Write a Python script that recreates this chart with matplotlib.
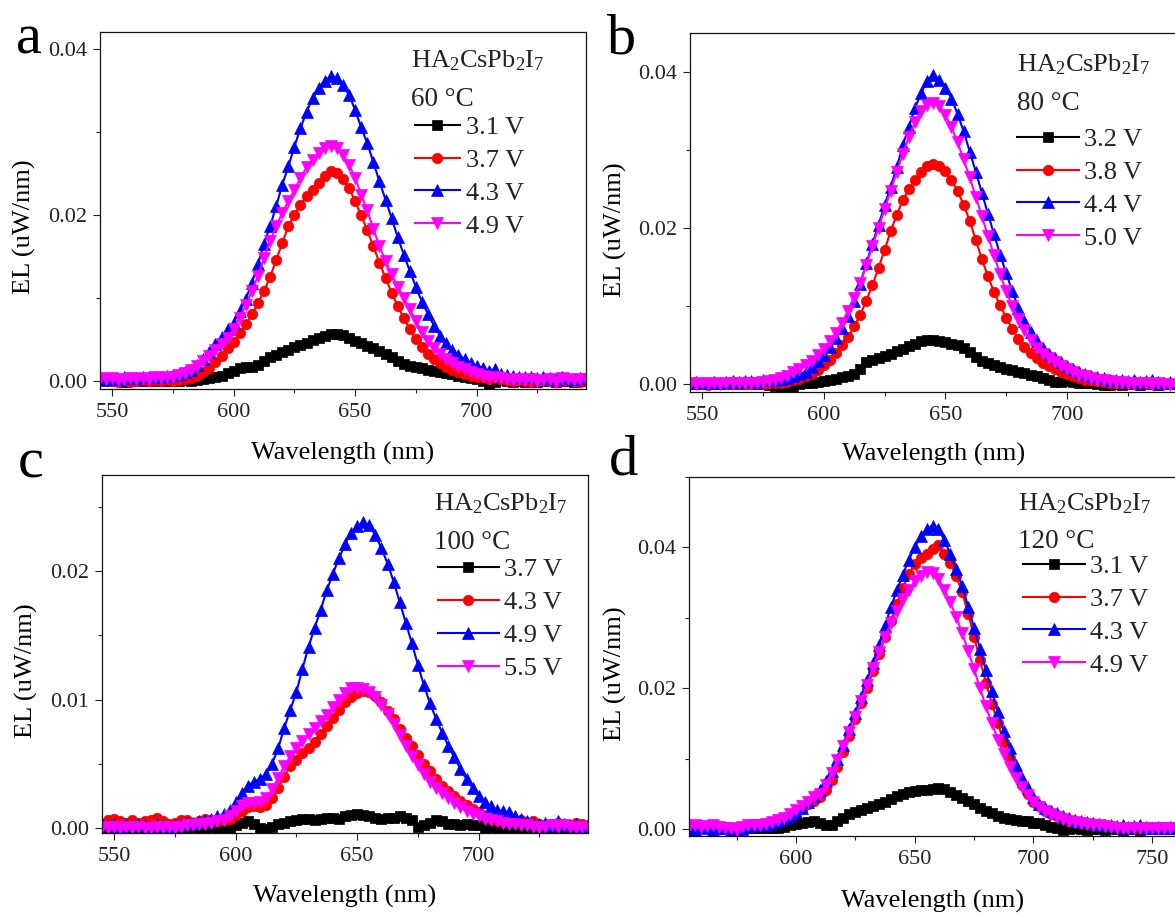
import numpy as np
import matplotlib
matplotlib.use("Agg")
import matplotlib.pyplot as plt
from matplotlib.ticker import MultipleLocator, FormatStrFormatter

plt.rcParams['font.family'] = ['Liberation Serif', 'DejaVu Serif']
plt.rcParams['mathtext.fontset'] = 'custom'
plt.rcParams['mathtext.rm'] = 'Liberation Serif'
plt.rcParams['mathtext.it'] = 'Liberation Serif:italic'
plt.rcParams['mathtext.bf'] = 'Liberation Serif:bold'

# ---------------- data (EL in units of 1e-3 uW/nm) ----------------
wl_abc = [545.0, 547.5, 550.0, 552.5, 555.0, 557.5, 560.0, 562.5, 565.0, 567.5,
          570.0, 572.5, 575.0, 577.5, 580.0, 582.5, 585.0, 587.5, 590.0, 592.5,
          595.0, 597.5, 600.0, 602.5, 605.0, 607.5, 610.0, 612.5, 615.0, 617.5,
          620.0, 622.5, 625.0, 627.5, 630.0, 632.5, 635.0, 637.5, 640.0, 642.5,
          645.0, 647.5, 650.0, 652.5, 655.0, 657.5, 660.0, 662.5, 665.0, 667.5,
          670.0, 672.5, 675.0, 677.5, 680.0, 682.5, 685.0, 687.5, 690.0, 692.5,
          695.0, 697.5, 700.0, 702.5, 705.0, 707.5, 710.0, 712.5, 715.0, 717.5,
          720.0, 722.5, 725.0, 727.5, 730.0, 732.5, 735.0, 737.5, 740.0, 742.5,
          745.0]

wl_d = [555.0, 557.5, 560.0, 562.5, 565.0, 567.5, 570.0, 572.5, 575.0, 577.5,
        580.0, 582.5, 585.0, 587.5, 590.0, 592.5, 595.0, 597.5, 600.0, 602.5,
        605.0, 607.5, 610.0, 612.5, 615.0, 617.5, 620.0, 622.5, 625.0, 627.5,
        630.0, 632.5, 635.0, 637.5, 640.0, 642.5, 645.0, 647.5, 650.0, 652.5,
        655.0, 657.5, 660.0, 662.5, 665.0, 667.5, 670.0, 672.5, 675.0, 677.5,
        680.0, 682.5, 685.0, 687.5, 690.0, 692.5, 695.0, 697.5, 700.0, 702.5,
        705.0, 707.5, 710.0, 712.5, 715.0, 717.5, 720.0, 722.5, 725.0, 727.5,
        730.0, 732.5, 735.0, 737.5, 740.0, 742.5, 745.0, 747.5, 750.0, 752.5,
        755.0, 757.5, 760.0]

# panel a: 60 C
a_31 = [0.1, 0.0, 0.1, 0.0, -0.1, 0.0, 0.1, 0.0, 0.1, 0.0,
        0.1, 0.0, 0.1, 0.0, 0.1, 0.0, 0.1, 0.2, 0.3, 0.4,
        0.6, 0.9, 1.2, 1.5, 1.6, 1.6, 1.9, 2.4, 2.8, 3.1,
        3.4, 3.7, 4.0, 4.3, 4.6, 4.9, 5.2, 5.4, 5.6, 5.6,
        5.5, 5.2, 4.8, 4.5, 4.2, 3.9, 3.6, 3.2, 2.8, 2.4,
        2.0, 1.8, 1.6, 1.5, 1.3, 1.2, 1.1, 0.9, 0.8, 0.6,
        0.5, 0.3, 0.2, 0.0, -0.4, -0.2, 0.1, 0.0, -0.1, 0.0,
        -0.1, 0.0, -0.1, 0.0, 0.0, -0.1, 0.0, 0.0, -0.1, 0.0,
        0.0]
a_37 = [0.1, 0.2, 0.0, -0.1, 0.1, -0.2, 0.0, 0.1, 0.0, 0.1,
        0.0, 0.1, 0.0, 0.1, 0.2, 0.3, 0.6, 1.0, 1.5, 2.2,
        3.0, 3.9, 4.7, 5.7, 6.8, 8.0, 9.3, 10.8, 12.5, 14.5,
        16.6, 18.6, 20.0, 21.2, 22.2, 23.0, 23.8, 24.6, 25.2, 25.0,
        24.3, 23.2, 21.6, 19.9, 18.1, 16.2, 14.2, 12.4, 10.6, 9.0,
        7.5, 6.2, 5.0, 4.0, 3.2, 2.6, 2.1, 1.7, 1.3, 1.0,
        0.8, 0.6, 0.5, 0.4, 0.2, 0.4, 0.2, 0.1, 0.0, 0.1,
        0.0, -0.1, 0.0, 0.1, 0.0, -0.1, 0.0, 0.1, 0.0, -0.1,
        0.0]
a_43 = [0.3, 0.2, 0.3, 0.2, 0.4, 0.3, 0.3, 0.5, 0.4, 0.5,
        0.4, 0.6, 0.7, 0.8, 1.0, 1.3, 1.9, 2.6, 3.5, 4.4,
        5.3, 6.2, 7.0, 8.4, 9.8, 11.8, 14.0, 16.5, 18.6, 21.0,
        23.6, 25.8, 28.2, 30.4, 32.4, 34.0, 35.3, 36.1, 36.7, 36.4,
        35.6, 34.4, 32.6, 30.5, 28.6, 26.3, 24.0, 21.8, 19.6, 17.3,
        15.2, 13.2, 11.3, 9.5, 8.0, 6.6, 5.4, 4.5, 3.7, 3.1,
        2.6, 2.1, 1.8, 1.5, 1.2, 1.4, 0.8, 0.7, 0.6, 0.5,
        0.4, 0.5, 0.3, 0.4, 0.3, 0.2, 0.5, 0.3, 0.2, 0.3,
        0.3]
a_49 = [0.3, 0.2, 0.3, 0.1, 0.2, 0.3, 0.2, 0.3, 0.2, 0.4,
        0.3, 0.4, 0.5, 0.7, 0.9, 1.3, 1.8, 2.4, 3.0, 3.7,
        4.4, 5.2, 6.2, 7.6, 9.1, 10.8, 12.6, 14.8, 16.8, 18.6,
        20.2, 21.6, 23.0, 24.4, 25.7, 26.6, 27.4, 28.0, 28.3, 28.0,
        27.2, 26.0, 24.4, 22.4, 20.5, 18.3, 16.2, 14.4, 12.8, 11.3,
        10.0, 8.6, 7.2, 5.9, 4.8, 3.9, 3.2, 2.6, 2.1, 1.7,
        1.4, 1.0, 0.8, 0.6, 0.3, 0.5, 0.3, 0.2, 0.1, 0.2,
        0.1, 0.2, 0.0, 0.1, 0.2, -0.1, 0.3, 0.2, 0.1, 0.2,
        0.2]

# panel b: 80 C
b_32 = [0.1, 0.0, 0.1, 0.0, 0.0, 0.1, 0.0, 0.1, 0.0, 0.0,
        0.1, 0.0, 0.0, -0.1, -0.2, -0.4, -0.7, -0.3, 0.0, 0.1,
        0.2, 0.3, 0.4, 0.5, 0.7, 0.9, 1.1, 1.3, 2.0, 2.8,
        3.1, 3.3, 3.6, 3.9, 4.2, 4.5, 4.9, 5.2, 5.5, 5.7,
        5.6, 5.5, 5.4, 5.2, 5.0, 4.7, 4.1, 3.5, 3.0, 2.7,
        2.5, 2.2, 2.0, 1.8, 1.6, 1.4, 1.2, 1.0, 0.8, 0.5,
        0.3, 0.3, 0.4, 0.3, 0.2, 0.1, 0.1, 0.0, -0.1, -0.1,
        0.0, -0.1, 0.0, 0.0, -0.1, 0.0, 0.0, -0.1, 0.0, 0.0,
        0.0]
b_38 = [0.0, 0.1, 0.0, -0.1, 0.0, 0.1, 0.0, 0.0, 0.1, 0.0,
        0.0, 0.1, 0.0, 0.1, 0.1, 0.2, 0.3, 0.5, 0.7, 1.0,
        1.3, 1.8, 2.4, 3.1, 4.0, 5.0, 6.1, 7.4, 8.9, 10.7,
        12.7, 14.9, 17.2, 19.6, 21.7, 23.6, 25.0, 26.2, 27.2, 27.9,
        28.2, 28.0, 27.3, 26.2, 24.7, 23.0, 20.9, 18.5, 16.0, 13.8,
        11.8, 10.1, 8.5, 7.1, 5.8, 4.8, 4.0, 3.3, 2.7, 2.3,
        1.9, 1.6, 1.3, 1.0, 0.8, 0.6, 0.5, 0.4, 0.3, 0.2,
        0.2, 0.1, 0.1, 0.0, 0.1, 0.0, 0.0, 0.1, 0.0, 0.0,
        0.0]
b_44 = [0.2, 0.3, 0.2, 0.2, 0.3, 0.2, 0.3, 0.4, 0.3, 0.4,
        0.4, 0.3, 0.5, 0.5, 0.6, 0.7, 0.8, 1.0, 1.3, 1.6,
        2.2, 3.0, 3.8, 4.8, 5.9, 7.2, 8.8, 10.7, 12.9, 15.5,
        18.0, 20.4, 22.9, 25.3, 27.8, 30.6, 33.0, 35.4, 37.3, 38.9,
        39.6, 39.0, 38.0, 36.6, 34.6, 32.4, 29.8, 27.2, 24.5, 21.8,
        19.2, 16.6, 14.2, 11.9, 9.8, 8.1, 6.7, 5.5, 4.6, 3.9,
        3.3, 2.8, 2.3, 1.9, 1.6, 1.3, 1.1, 0.9, 0.8, 0.6,
        0.5, 0.6, 0.4, 0.5, 0.3, 0.4, 0.5, 0.3, 0.2, 0.3,
        0.2]
b_50 = [0.1, 0.0, 0.1, 0.0, 0.1, 0.0, 0.1, 0.2, 0.1, 0.2,
        0.2, 0.1, 0.3, 0.4, 0.5, 0.8, 1.1, 1.5, 1.9, 2.4,
        3.0, 3.7, 4.5, 5.5, 6.6, 7.9, 9.4, 11.1, 13.0, 15.3,
        17.7, 20.0, 22.4, 24.8, 27.2, 29.5, 31.7, 33.6, 35.0, 35.8,
        36.0, 35.6, 34.5, 32.9, 31.0, 28.8, 26.5, 24.0, 21.5, 19.0,
        16.5, 14.1, 11.9, 10.0, 8.3, 6.9, 5.7, 4.7, 3.9, 3.3,
        2.8, 2.3, 1.9, 1.5, 1.2, 1.0, 0.8, 0.6, 0.5, 0.4,
        0.3, 0.3, 0.2, 0.1, 0.2, 0.1, 0.0, 0.1, 0.0, -0.1,
        0.0]

# panel c: 100 C
c_37 = [0.1, 0.0, 0.1, 0.0, 0.0, 0.1, 0.0, 0.0, 0.1, 0.0,
        0.0, 0.0, 0.1, 0.0, 0.0, 0.1, 0.0, 0.0, 0.1, 0.0,
        -0.1, 0.0, 0.2, 0.4, 0.5, 0.3, 0.0, -0.1, 0.1, 0.3,
        0.4, 0.5, 0.6, 0.7, 0.7, 0.6, 0.7, 0.8, 0.8, 0.7,
        0.9, 1.0, 1.1, 1.0, 0.9, 0.8, 0.7, 0.8, 0.8, 0.9,
        0.8, 0.6, 0.1, 0.2, 0.4, 0.6, 0.5, 0.3, 0.3, 0.2,
        0.3, 0.2, 0.2, 0.0, 0.1, 0.0, -0.1, 0.0, -0.2, -0.1,
        0.0, -0.1, -0.2, 0.0, -0.1, 0.0, 0.0, -0.1, 0.0, 0.0,
        0.0]
c_43 = [0.3, 0.6, 0.7, 0.5, 0.4, 0.6, 0.4, 0.5, 0.6, 0.8,
        0.5, 0.3, 0.4, 0.6, 0.6, 0.4, 0.5, 0.7, 0.6, 0.5,
        0.6, 0.7, 1.0, 1.3, 1.6, 1.7, 1.6, 1.8, 2.3, 3.1,
        4.0, 4.8, 5.3, 5.8, 6.2, 6.7, 7.3, 7.9, 8.6, 9.2,
        9.8, 10.2, 10.5, 10.7, 10.6, 10.3, 9.8, 9.1, 8.5, 7.7,
        7.0, 6.4, 5.7, 5.0, 4.4, 3.8, 3.3, 2.9, 2.5, 2.1,
        1.8, 1.5, 1.2, 0.9, 0.8, 0.6, 0.5, 0.6, 0.5, 0.6,
        0.4, 0.5, 0.3, 0.2, 0.3, 0.4, 0.3, 0.2, 0.4, 0.3,
        0.2]
c_49 = [0.3, 0.2, 0.3, 0.1, 0.3, 0.2, 0.3, 0.2, 0.1, 0.3,
        0.2, 0.0, 0.2, 0.3, 0.4, 0.4, 0.5, 0.6, 0.7, 0.9,
        1.1, 1.4, 2.0, 2.7, 3.3, 3.6, 3.8, 4.2, 5.0, 6.2,
        7.8, 9.2, 10.6, 12.4, 14.1, 15.6, 17.0, 18.5, 19.8, 21.0,
        22.1, 23.0, 23.5, 23.8, 23.6, 22.8, 21.8, 20.6, 19.2, 17.6,
        16.0, 14.4, 12.7, 11.1, 9.7, 8.5, 7.4, 6.4, 5.5, 4.6,
        3.8, 3.1, 2.5, 2.0, 1.7, 1.4, 1.3, 1.2, 0.9, 0.7,
        0.5, 0.4, 0.3, 0.4, 0.2, 0.5, 0.3, 0.2, 0.3, 0.1,
        0.2]
c_55 = [0.1, 0.0, 0.1, 0.0, 0.1, 0.0, 0.1, 0.0, 0.0, 0.1,
        0.0, 0.1, 0.0, 0.1, 0.2, 0.2, 0.3, 0.3, 0.4, 0.5,
        0.6, 0.9, 1.3, 1.7, 1.9, 1.9, 2.0, 2.3, 3.0, 3.9,
        4.8, 5.6, 6.2, 6.8, 7.3, 7.8, 8.3, 8.8, 9.4, 10.0,
        10.5, 10.9, 10.9, 10.8, 10.6, 10.2, 9.6, 8.9, 8.1, 7.2,
        6.4, 5.6, 4.9, 4.2, 3.6, 3.1, 2.7, 2.3, 1.9, 1.6,
        1.3, 1.1, 0.9, 0.7, 0.6, 0.5, 0.4, 0.3, 0.3, 0.2,
        0.2, 0.1, 0.0, 0.1, 0.2, 0.1, 0.2, 0.1, 0.0, 0.1,
        0.1]

# panel d: 120 C
d_31 = [0.3, 0.3, 0.4, 0.3, 0.2, 0.3, 0.1, -0.1, -0.2, 0.0,
        0.1, 0.2, 0.1, 0.2, 0.1, 0.2, 0.3, 0.5, 0.7, 0.9,
        1.0, 1.1, 0.8, 0.5, 0.6, 1.1, 1.6, 2.1, 2.4, 2.7,
        3.0, 3.3, 3.6, 3.9, 4.3, 4.7, 5.0, 5.2, 5.4, 5.5,
        5.6, 5.7, 5.8, 5.7, 5.3, 4.8, 4.4, 4.0, 3.5, 3.0,
        2.6, 2.2, 1.9, 1.6, 1.4, 1.3, 1.2, 1.1, 0.9, 0.8,
        0.5, 0.3, 0.1, -0.1, 0.0, 0.1, 0.0, -0.1, 0.0, 0.0,
        -0.1, 0.0, 0.0, -0.1, 0.0, 0.0, -0.1, 0.0, 0.0, 0.0,
        0.0, 0.0, 0.0]
d_37 = [0.4, 0.3, 0.5, 0.4, 0.3, 0.4, 0.2, 0.0, -0.1, 0.2,
        0.4, 0.5, 0.7, 0.8, 1.0, 1.2, 1.5, 1.9, 2.4, 2.9,
        3.5, 4.0, 4.6, 5.6, 7.0, 8.8, 10.9, 13.2, 15.6, 17.9,
        20.0, 22.4, 24.8, 27.2, 29.6, 32.0, 34.2, 36.2, 37.7, 38.5,
        39.0, 39.8, 40.3, 39.0, 37.8, 35.9, 33.6, 30.6, 27.3, 24.0,
        20.8, 17.8, 15.0, 12.4, 10.1, 8.0, 6.3, 5.0, 3.9, 3.2,
        2.6, 2.1, 1.8, 1.5, 1.2, 1.0, 0.9, 0.7, 0.6, 0.5,
        0.5, 0.4, 0.3, 0.2, 0.3, 0.2, 0.1, 0.2, 0.1, 0.2,
        0.1, 0.2, 0.1]
d_43 = [0.2, -0.2, 0.3, 0.1, -0.1, 0.2, 0.1, -0.1, -0.3, 0.0,
        0.3, 0.5, 0.6, 0.6, 0.9, 1.2, 1.5, 1.9, 2.4, 3.0,
        3.8, 4.7, 5.6, 6.8, 8.3, 9.9, 11.9, 14.2, 16.5, 18.8,
        21.1, 23.6, 26.2, 28.9, 31.5, 33.9, 36.1, 38.2, 40.0, 41.6,
        42.6, 43.1, 42.6, 41.0, 39.1, 36.9, 34.5, 31.6, 28.6, 25.6,
        22.6, 19.6, 16.6, 13.9, 11.5, 9.1, 7.3, 5.8, 4.5, 3.6,
        3.0, 2.6, 2.2, 1.9, 1.6, 1.3, 1.1, 1.0, 0.8, 0.7,
        0.6, 0.5, 0.4, 0.5, 0.3, 0.4, 0.6, 0.3, 0.2, 0.3,
        0.2, 0.3, 0.2]
d_49 = [0.4, 0.5, 0.3, 0.4, 0.5, 0.3, 0.2, 0.1, -0.1, 0.3,
        0.5, 0.6, 0.5, 0.7, 1.0, 1.3, 1.6, 2.1, 2.7, 3.3,
        3.9, 4.5, 5.0, 6.3, 8.0, 9.8, 11.8, 13.8, 15.9, 18.2,
        20.5, 22.9, 25.1, 27.3, 29.2, 31.0, 32.6, 34.0, 35.2, 36.0,
        36.5, 36.4, 35.5, 34.0, 32.2, 30.1, 27.8, 25.3, 22.7, 20.0,
        17.4, 15.0, 12.7, 10.6, 8.8, 7.2, 5.9, 4.8, 3.8, 3.1,
        2.5, 2.1, 1.7, 1.4, 1.2, 1.0, 0.9, 0.7, 0.6, 0.5,
        0.4, 0.3, 0.2, 0.1, 0.2, 0.1, 0.2, 0.1, 0.2, 0.1,
        0.2, 0.1, 0.2]

panels = [
    dict(letter='a', temp='60 °C', wl=wl_abc, series=[a_31, a_37, a_43, a_49],
         labels=['3.1 V', '3.7 V', '4.3 V', '4.9 V']),
    dict(letter='b', temp='80 °C', wl=wl_abc, series=[b_32, b_38, b_44, b_50],
         labels=['3.2 V', '3.8 V', '4.4 V', '5.0 V']),
    dict(letter='c', temp='100 °C', wl=wl_abc, series=[c_37, c_43, c_49, c_55],
         labels=['3.7 V', '4.3 V', '4.9 V', '5.5 V']),
    dict(letter='d', temp='120 °C', wl=wl_d, series=[d_31, d_37, d_43, d_49],
         labels=['3.1 V', '3.7 V', '4.3 V', '4.9 V']),
]

# ---------------- styles / layout (pixels) ----------------
W, H = 1175, 913
colors = ['#000000', '#ff0000', '#0000ff', '#ff00ff']
markers = ['s', 'o', '^', 'v']
msizes = [6.5, 7.5, 8.0, 8.0]

layout = [
    dict(box=(100, 586, 32, 389), xlim=(545, 745), ylim=(-0.001, 0.042), ymaj=0.02, ymin=0.01,
         xl=(0.5, -0.148), yl=(-0.132, 0.454),
         title=(411, 67), temp=(411, 106), leg=(415, 176.5), hl=1.7, htp=0.22),
    dict(box=(690, 1176.5, 33, 392), xlim=(545, 745), ylim=(-0.001, 0.045), ymaj=0.02, ymin=0.01,
         xl=(0.5, -0.142), yl=(-0.13, 0.451),
         title=(1017, 71), temp=(1017, 110), leg=(1017, 188.5), hl=2.35, htp=0.18),
    dict(box=(102, 588, 475, 833), xlim=(545, 745), ylim=(-0.0004, 0.0275), ymaj=0.01, ymin=0.005,
         xl=(0.5, -0.145), yl=(-0.132, 0.453),
         title=(434, 510), temp=(434, 549), leg=(438, 619), hl=2.3, htp=0.22),
    dict(box=(689, 1176, 477, 836), xlim=(555, 760), ylim=(-0.001, 0.050), ymaj=0.02, ymin=0.01,
         xl=(0.5, -0.15), yl=(-0.127, 0.451),
         title=(1018, 510), temp=(1018, 548), leg=(1023, 615.5), hl=2.35, htp=0.18),
]
letter_pos = [(16, 53), (607, 53), (18, 478), (609, 474)]

fig = plt.figure(figsize=(W / 100, H / 100), dpi=100)

for p, L, lp in zip(panels, layout, letter_pos):
    l, r, t, b = L['box']
    ax = fig.add_axes([l / W, 1 - b / H, (r - l) / W, (b - t) / H])
    handles = []
    for ys, c, m, ms, lab in zip(p['series'], colors, markers, msizes, p['labels']):
        y = np.array(ys) * 1e-3
        h, = ax.plot(p['wl'], y, color=c, marker=m, markersize=ms, lw=1.5,
                     markeredgewidth=0.5, label=lab)
        handles.append(h)
    ax.set_xlim(*L['xlim'])
    ax.set_ylim(*L['ylim'])
    ax.xaxis.set_major_locator(MultipleLocator(50))
    ax.xaxis.set_minor_locator(MultipleLocator(25))
    ax.yaxis.set_major_locator(MultipleLocator(L['ymaj']))
    ax.yaxis.set_minor_locator(MultipleLocator(L['ymin']))
    ax.yaxis.set_major_formatter(FormatStrFormatter('%.2f'))
    ax.xaxis.set_major_formatter(FormatStrFormatter('%d'))
    ax.tick_params(which='both', direction='out', top=False, right=False, colors='#222222',
                   labelsize=16)
    ax.tick_params(which='major', length=5, width=0.8)
    ax.tick_params(which='minor', length=3, width=0.8)
    ax.tick_params(axis='x', which='major', pad=5)
    ax.tick_params(axis='y', which='major', pad=4)
    for s in ax.spines.values():
        s.set_linewidth(0.9)
        s.set_color('#111111')
    ax.set_xlabel('Wavelength (nm)', fontsize=19)
    ax.set_ylabel('EL (uW/nm)', fontsize=19)
    ax.xaxis.set_label_coords(*L['xl'])
    ax.yaxis.set_label_coords(*L['yl'])

    tx, ty = L['title']
    fig.text(tx / W, 1 - ty / H, r'HA$_2$CsPb$_2$I$_7$', fontsize=19, va='baseline', ha='left',
             color='#222222')
    tx, ty = L['temp']
    fig.text(tx / W, 1 - ty / H, p['temp'], fontsize=19.5, va='baseline', ha='left', color='#222222')

    lx, ly = L['leg']
    ax.legend(handles=handles, loc='center left', bbox_to_anchor=(lx / W, 1 - ly / H),
              bbox_transform=fig.transFigure, frameon=False, borderpad=0, borderaxespad=0,
              handlelength=L['hl'], handletextpad=L['htp'], labelspacing=0.36,
              numpoints=1, fontsize=19, labelcolor='#222222')

    fig.text(lp[0] / W, 1 - lp[1] / H, p['letter'], fontsize=42, va='baseline', ha='left')

fig.savefig('out.png', dpi=100)
